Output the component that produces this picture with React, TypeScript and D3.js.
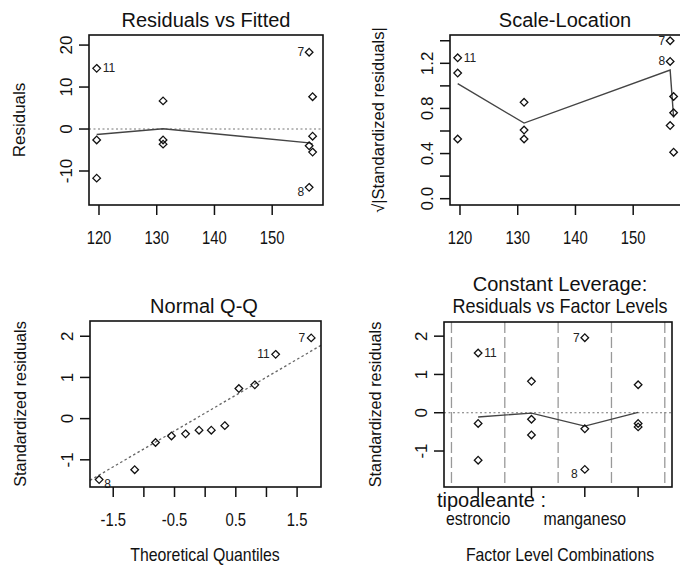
import React, { useEffect, useRef } from "react";
import * as d3 from "d3";

// 12 observations, three per factor group
const fitted = [119.6, 119.6, 119.6, 131.1, 131.1, 131.1, 156.4, 156.4, 156.4, 157.0, 157.0, 157.0];
const residuals = [14.45, -2.6, -11.7, 6.7, -2.6, -3.6, 18.3, -4.0, -13.9, 7.7, -1.7, -5.5];
const stdResiduals = [1.56, -0.28, -1.24, 0.73, -0.28, -0.37, 1.96, -0.42, -1.48, 0.82, -0.17, -0.58];
const obsLabels = ["11", "", "", "", "", "", "7", "", "8", "", "", ""];
// position of each observation on the factor-level axis
const factorPos = [1, 1, 1, 4, 4, 4, 3, 3, 3, 2, 2, 2];
const factorLevels = ["estroncio", "", "manganeso", ""];

// smoothers (lowess)
const smoothFitted = [119.6, 131.1, 156.4, 157.0];
const smoothResid = [-1.3, 0.05, -3.3, -3.6];
const smoothScale = [1.02, 0.67, 1.14, 0.72];
const smoothFactor = [-0.11, -0.01, -0.35, 0.01];

// normal quantiles for n = 12
const theoQuantiles = [-1.73, -1.15, -0.81, -0.55, -0.32, -0.1, 0.1, 0.32, 0.55, 0.81, 1.15, 1.73];
const qqIntercept = 0.135;
const qqSlope = 0.87;

const fittedTicks = [120, 130, 140, 150];
const residTicks = [-10, 0, 10, 20];
const scaleTicks = [0, 0.2, 0.4, 0.6, 0.8, 1.0, 1.2, 1.4];
const scaleTickLabels = [0, 0.4, 0.8, 1.2];
const qqTicks = [-1.5, -1, -0.5, 0, 0.5, 1, 1.5];
const qqTickLabels = [-1.5, -0.5, 0.5, 1.5];
const stdTicks = [-1, 0, 1, 2];

const FONT = "'Liberation Sans', Arial, Helvetica, sans-serif";

type G = d3.Selection<SVGGElement, unknown, null, undefined>;
type Box = { x0: number; x1: number; y0: number; y1: number };

function addText(
  g: G,
  str: string,
  x: number,
  y: number,
  size: number,
  opts: { anchor?: string; rotate?: number; sx?: number; fill?: string } = {}
) {
  let tr = `translate(${x},${y})`;
  if (opts.rotate) tr += ` rotate(${opts.rotate})`;
  if (opts.sx) tr += ` scale(${opts.sx},1)`;
  g.append("text")
    .attr("transform", tr)
    .attr("text-anchor", opts.anchor ?? "middle")
    .attr("font-family", FONT)
    .attr("font-size", size)
    .attr("fill", opts.fill ?? "#111")
    .text(str);
}

function drawBox(g: G, b: Box) {
  g.append("rect")
    .attr("x", b.x0)
    .attr("y", b.y0)
    .attr("width", b.x1 - b.x0)
    .attr("height", b.y1 - b.y0)
    .attr("fill", "none")
    .attr("stroke", "#111")
    .attr("stroke-width", 1.6);
}

function xTicks(g: G, x: d3.ScaleLinear<number, number>, b: Box, ticks: number[], labels: number[], fmt: (v: number) => string) {
  ticks.forEach((t) => {
    g.append("line")
      .attr("x1", x(t)).attr("x2", x(t))
      .attr("y1", b.y1).attr("y2", b.y1 + 10)
      .attr("stroke", "#111").attr("stroke-width", 1.5);
  });
  labels.forEach((t) => addText(g, fmt(t), x(t), b.y1 + 39, 19, { sx: 0.78 }));
}

function yTicks(g: G, y: d3.ScaleLinear<number, number>, b: Box, ticks: number[], labels: number[], fmt: (v: number) => string) {
  ticks.forEach((t) => {
    g.append("line")
      .attr("x1", b.x0 - 10).attr("x2", b.x0)
      .attr("y1", y(t)).attr("y2", y(t))
      .attr("stroke", "#111").attr("stroke-width", 1.5);
  });
  labels.forEach((t) => addText(g, fmt(t), b.x0 - 17, y(t), 17, { rotate: -90 }));
}

function diamonds(g: G, pts: [number, number][]) {
  const r = 3.8;
  const layer = g.append("g");
  layer.selectAll("path")
    .data(pts)
    .enter()
    .append("path")
    .attr("d", (d) => `M${d[0]},${d[1] - r}L${d[0] + r},${d[1]}L${d[0]},${d[1] + r}L${d[0] - r},${d[1]}Z`)
    .attr("fill", "none")
    .attr("stroke", "#111")
    .attr("stroke-width", 1.3);
}

function pointLabel(g: G, str: string, px: number, py: number, side: "left" | "right", dy = 4) {
  if (!str) return;
  if (side === "right") addText(g, str, px + 6, py + dy, 12, { anchor: "start", fill: "#222" });
  else addText(g, str, px - 5, py + dy, 12, { anchor: "end", fill: "#222" });
}

function hline(g: G, b: Box, yv: number) {
  g.append("line")
    .attr("x1", b.x0).attr("x2", b.x1)
    .attr("y1", yv).attr("y2", yv)
    .attr("stroke", "#777")
    .attr("stroke-width", 1.2)
    .attr("stroke-dasharray", "2,2.5");
}

const lineGen = (pts: [number, number][]) => d3.line()(pts) ?? "";

export default function App() {
  const ref = useRef<SVGSVGElement>(null);

  useEffect(() => {
    const svg = d3.select(ref.current);
    svg.selectAll("*").remove();
    const root = svg.append("g") as unknown as G;
    const fmt1 = (v: number) => d3.format(".1f")(v);
    const fmtN = (v: number) => String(v);

    // ---- Residuals vs Fitted
    {
      const b = { x0: 89, x1: 323, y0: 35, y1: 205 };
      const x = d3.scaleLinear().domain([118.27, 158.8]).range([b.x0, b.x1]);
      const y = d3.scaleLinear().domain([-18.1, 22.4]).range([b.y1, b.y0]);
      hline(root, b, y(0));
      root.append("path")
        .attr("d", lineGen(smoothFitted.map((f, i) => [x(f), y(smoothResid[i])])))
        .attr("fill", "none").attr("stroke", "#444").attr("stroke-width", 1.4);
      diamonds(root, fitted.map((f, i) => [x(f), y(residuals[i])]));
      pointLabel(root, obsLabels[0], x(fitted[0]), y(residuals[0]), "right");
      pointLabel(root, obsLabels[6], x(fitted[6]), y(residuals[6]), "left");
      pointLabel(root, obsLabels[8], x(fitted[8]), y(residuals[8]), "left", 9);
      drawBox(root, b);
      xTicks(root, x, b, fittedTicks, fittedTicks, fmtN);
      yTicks(root, y, b, residTicks, residTicks, fmtN);
      addText(root, "Residuals vs Fitted", (b.x0 + b.x1) / 2, 27, 20);
      addText(root, "Residuals", 25, (b.y0 + b.y1) / 2, 17, { rotate: -90 });
    }

    // ---- Scale-Location
    {
      const b = { x0: 450, x1: 684, y0: 35, y1: 205 };
      const x = d3.scaleLinear().domain([118.27, 158.8]).range([b.x0, b.x1]);
      const y = d3.scaleLinear().domain([-0.056, 1.451]).range([b.y1, b.y0]);
      const sq = stdResiduals.map((s) => Math.sqrt(Math.abs(s)));
      root.append("path")
        .attr("d", lineGen(smoothFitted.map((f, i) => [x(f), y(smoothScale[i])])))
        .attr("fill", "none").attr("stroke", "#444").attr("stroke-width", 1.4);
      diamonds(root, fitted.map((f, i) => [x(f), y(sq[i])]));
      pointLabel(root, obsLabels[0], x(fitted[0]), y(sq[0]), "right");
      pointLabel(root, obsLabels[6], x(fitted[6]), y(sq[6]), "left");
      pointLabel(root, obsLabels[8], x(fitted[8]), y(sq[8]), "left");
      drawBox(root, b);
      xTicks(root, x, b, fittedTicks, fittedTicks, fmtN);
      yTicks(root, y, b, scaleTicks, scaleTickLabels, fmt1);
      addText(root, "Scale-Location", (b.x0 + b.x1) / 2 - 2, 27, 20);
      addText(root, "\u221A|Standardized residuals|", 384, (b.y0 + b.y1) / 2, 16.5, { rotate: -90 });
    }

    // ---- Normal Q-Q
    {
      const b = { x0: 90, x1: 321, y0: 321, y1: 487 };
      const x = d3.scaleLinear().domain([-1.879, 1.89]).range([b.x0, b.x1]);
      const y = d3.scaleLinear().domain([-1.66, 2.37]).range([b.y1, b.y0]);
      const order = d3.range(stdResiduals.length).sort((a, c) => stdResiduals[a] - stdResiduals[c]);
      const [dx0, dx1] = x.domain();
      root.append("line")
        .attr("x1", x(dx0)).attr("y1", y(qqIntercept + qqSlope * dx0))
        .attr("x2", x(dx1)).attr("y2", y(qqIntercept + qqSlope * dx1))
        .attr("stroke", "#666").attr("stroke-width", 1.3).attr("stroke-dasharray", "2.5,2.5");
      const pts: [number, number][] = order.map((idx, k) => [x(theoQuantiles[k]), y(stdResiduals[idx])]);
      diamonds(root, pts);
      order.forEach((idx, k) => {
        const lab = obsLabels[idx];
        if (!lab) return;
        if (k === 0) pointLabel(root, lab, pts[k][0] - 1, pts[k][1], "right", 8);
        else pointLabel(root, lab, pts[k][0] - 1, pts[k][1], "left");
      });
      drawBox(root, b);
      xTicks(root, x, b, qqTicks, qqTickLabels, fmtN);
      yTicks(root, y, b, stdTicks, stdTicks, fmtN);
      addText(root, "Normal Q-Q", 204, 313, 20);
      addText(root, "Standardized residuals", 26, (b.y0 + b.y1) / 2, 16.3, { rotate: -90 });
      addText(root, "Theoretical Quantiles", 205, 561, 18, { sx: 0.88 });
    }

    // ---- Constant Leverage: Residuals vs Factor Levels
    {
      const b = { x0: 444, x1: 672, y0: 322, y1: 487 };
      const x = d3.scaleLinear().domain([0.36, 4.635]).range([b.x0, b.x1]);
      const y = d3.scaleLinear().domain([-1.94, 2.37]).range([b.y1, b.y0]);
      // group separators
      d3.range(0.5, factorLevels.length + 1, 1).forEach((v) => {
        root.append("line")
          .attr("x1", x(v)).attr("x2", x(v))
          .attr("y1", b.y0).attr("y2", b.y1)
          .attr("stroke", "#999").attr("stroke-width", 1.3).attr("stroke-dasharray", "11,4");
      });
      hline(root, b, y(0));
      root.append("path")
        .attr("d", lineGen(smoothFactor.map((v, i) => [x(i + 1), y(v)])))
        .attr("fill", "none").attr("stroke", "#444").attr("stroke-width", 1.4);
      diamonds(root, factorPos.map((p, i) => [x(p), y(stdResiduals[i])]));
      pointLabel(root, obsLabels[0], x(factorPos[0]), y(stdResiduals[0]), "right");
      pointLabel(root, obsLabels[6], x(factorPos[6]), y(stdResiduals[6]), "left");
      pointLabel(root, obsLabels[8], x(factorPos[8]) - 2, y(stdResiduals[8]), "left", 9);
      drawBox(root, b);
      factorLevels.forEach((lev, i) => {
        root.append("line")
          .attr("x1", x(i + 1)).attr("x2", x(i + 1))
          .attr("y1", b.y1).attr("y2", b.y1 + 10)
          .attr("stroke", "#111").attr("stroke-width", 1.5);
        if (lev) addText(root, lev, x(i + 1), 525, 18, { sx: 0.88 });
      });
      yTicks(root, y, b, stdTicks, stdTicks, fmtN);
      addText(root, "tipoaleante :", 437, 507, 20, { anchor: "start" });
      addText(root, "Constant Leverage:", 560, 291, 20);
      addText(root, "Residuals vs Factor Levels", 560, 313, 20, { sx: 0.9 });
      addText(root, "Standardized residuals", 381, (b.y0 + b.y1) / 2, 16.3, { rotate: -90 });
      addText(root, "Factor Level Combinations", 560, 561, 18, { sx: 0.88 });
    }
  }, []);

  return (
    <div style={{ position: "absolute", left: 0, top: 0 }}>
      <svg ref={ref} width={680} height={567} style={{ display: "block", background: "#fff" }} />
    </div>
  );
}
